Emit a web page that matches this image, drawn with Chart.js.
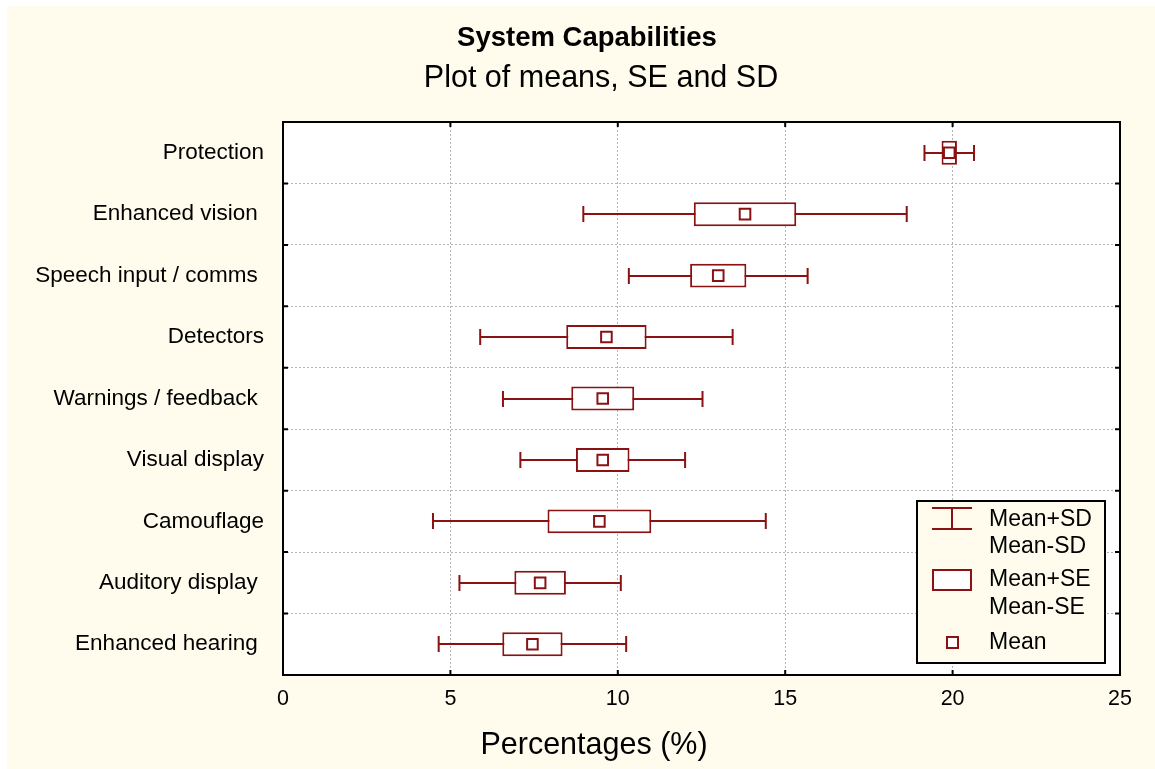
<!DOCTYPE html>
<html>
<head>
<meta charset="utf-8">
<script src="https://cdn.jsdelivr.net/npm/chart.js@4/dist/chart.umd.min.js"></script>
<style>
  html, body { margin: 0; padding: 0; background: #ffffff; }
  canvas { display: block; }
</style>
</head>
<body>
<canvas id="chart" width="1155" height="769"></canvas>
<script>
// Capability categories, top to bottom (trailing spaces kept as in the source labels)
const categories = [
  'Protection',
  'Enhanced vision ',
  'Speech input / comms ',
  'Detectors',
  'Warnings / feedback ',
  'Visual display',
  'Camouflage',
  'Auditory display ',
  'Enhanced hearing '
];
// Mean percentage per category
const means  = [19.9, 13.8, 13.0, 9.66, 9.55, 9.55, 9.45, 7.68, 7.45];
// Standard error of the mean
const stdErr = [0.23, 1.53, 0.84, 1.20, 0.94, 0.80, 1.55, 0.77, 0.90];
// Standard deviation
const stdDev = [0.74, 4.83, 2.67, 3.77, 2.98, 2.46, 4.97, 2.41, 2.80];
// Value axis ticks
const xTicks = [0, 5, 10, 15, 20, 25];

const RED = '#8b1212';
const CREAM = '#fffcee';
const FONT = '"Liberation Sans", Arial, Helvetica, sans-serif';

// Page background, white plot area
const backdrop = {
  id: 'backdrop',
  beforeDraw(chart) {
    const { ctx, chartArea: a, width, height } = chart;
    ctx.save();
    ctx.fillStyle = '#ffffff';
    ctx.fillRect(0, 0, width, height);
    ctx.fillStyle = CREAM;
    ctx.fillRect(7, 6, width - 7, height - 6);
    ctx.fillStyle = '#ffffff';
    ctx.fillRect(a.left, a.top, a.right - a.left, a.bottom - a.top);
    ctx.restore();
  }
};

// Mean ± SD whiskers, drawn beneath the SE boxes
const whiskers = {
  id: 'whiskers',
  beforeDatasetsDraw(chart) {
    const { ctx, scales: { x, y } } = chart;
    ctx.save();
    ctx.strokeStyle = RED;
    ctx.lineWidth = 2;
    means.forEach((m, i) => {
      const yy = Math.round(y.getPixelForValue(i));
      const x1 = x.getPixelForValue(m - stdDev[i]);
      const x2 = x.getPixelForValue(m + stdDev[i]);
      ctx.beginPath();
      ctx.moveTo(x1, yy); ctx.lineTo(x2, yy);
      ctx.moveTo(x1, yy - 8); ctx.lineTo(x1, yy + 8);
      ctx.moveTo(x2, yy - 8); ctx.lineTo(x2, yy + 8);
      ctx.stroke();
    });
    ctx.restore();
  }
};

// Frame, inner tick marks, titles and the legend panel
const decorations = {
  id: 'decorations',
  afterDraw(chart) {
    const { ctx, chartArea: a, scales: { x, y } } = chart;
    ctx.save();

    // inner tick marks
    ctx.strokeStyle = '#000';
    ctx.lineWidth = 2;
    ctx.beginPath();
    xTicks.forEach(v => {
      const px = x.getPixelForValue(v);
      ctx.moveTo(px, a.top); ctx.lineTo(px, a.top + 5);
      ctx.moveTo(px, a.bottom); ctx.lineTo(px, a.bottom - 5);
    });
    const rowH = (a.bottom - a.top) / categories.length;
    for (let i = 0; i <= categories.length; i++) {
      const py = a.top + i * rowH;
      ctx.moveTo(a.left, py); ctx.lineTo(a.left + 5, py);
      ctx.moveTo(a.right, py); ctx.lineTo(a.right - 5, py);
    }
    ctx.stroke();

    // plot frame
    ctx.strokeRect(a.left, a.top, a.right - a.left, a.bottom - a.top);

    // titles
    ctx.fillStyle = '#000';
    ctx.textAlign = 'center';
    ctx.textBaseline = 'alphabetic';
    ctx.font = 'bold 27.5px ' + FONT;
    ctx.fillText('System Capabilities', 587, 46);
    ctx.font = '30.5px ' + FONT;
    ctx.fillText('Plot of means, SE and SD', 601, 87);
    ctx.fillText('Percentages (%)', 594, 754);

    // legend panel
    ctx.fillStyle = CREAM;
    ctx.fillRect(917, 501, 188, 162);
    ctx.strokeStyle = '#000';
    ctx.lineWidth = 2;
    ctx.strokeRect(917, 501, 188, 162);

    ctx.strokeStyle = RED;
    ctx.lineWidth = 2;
    ctx.beginPath();
    ctx.moveTo(932, 508); ctx.lineTo(972, 508);
    ctx.moveTo(932, 529); ctx.lineTo(972, 529);
    ctx.moveTo(952, 508); ctx.lineTo(952, 529);
    ctx.stroke();
    ctx.fillStyle = '#ffffff';
    ctx.fillRect(933, 570, 38, 20);
    ctx.strokeRect(933, 570, 38, 20);
    ctx.fillRect(947, 637, 11, 11);
    ctx.strokeRect(947, 637, 11, 11);

    ctx.fillStyle = '#000';
    ctx.textAlign = 'left';
    ctx.textBaseline = 'middle';
    ctx.font = '23px ' + FONT;
    ctx.fillText('Mean+SD', 989, 520);
    ctx.fillText('Mean-SD', 989, 547);
    ctx.fillText('Mean+SE', 989, 580);
    ctx.fillText('Mean-SE', 989, 608);
    ctx.fillText('Mean', 989, 643);

    ctx.restore();
  }
};

new Chart(document.getElementById('chart'), {
  data: {
    labels: categories,
    datasets: [
      {
        type: 'line',
        label: 'Mean',
        data: means,
        showLine: false,
        pointStyle: 'rect',
        pointRadius: 7.5,
        pointBorderWidth: 2,
        pointBackgroundColor: '#ffffff',
        pointBorderColor: RED,
        order: 1
      },
      {
        type: 'bar',
        label: 'Mean±SE',
        data: means.map((m, i) => [m - stdErr[i], m + stdErr[i]]),
        backgroundColor: '#ffffff',
        borderColor: RED,
        borderWidth: 2,
        borderSkipped: false,
        barPercentage: 0.39,
        categoryPercentage: 1,
        grouped: false,
        order: 2
      }
    ]
  },
  options: {
    indexAxis: 'y',
    responsive: false,
    animation: false,
    events: [],
    layout: { padding: { top: 122, right: 35, bottom: 0, left: 0 } },
    plugins: {
      legend: { display: false },
      title: { display: false },
      tooltip: { enabled: false }
    },
    scales: {
      x: {
        type: 'linear',
        min: 0,
        max: 25,
        afterBuildTicks(scale) { scale.ticks = xTicks.map(v => ({ value: v })); },
        afterFit(scale) { scale.height = 94; scale.paddingLeft = 0; scale.paddingRight = 0; },
        grid: { color: '#b4b4b4', lineWidth: 1, drawTicks: false },
        border: { display: false, dash: [2, 2] },
        ticks: { color: '#000', padding: 11, font: { family: FONT, size: 21.5 } }
      },
      y: {
        type: 'category',
        offset: true,
        afterFit(scale) { scale.width = 283; scale.paddingTop = 0; scale.paddingBottom = 0; },
        grid: { color: '#b4b4b4', lineWidth: 1, drawTicks: false, offset: true },
        border: { display: false, dash: [2, 2] },
        ticks: { color: '#000', padding: 19, font: { family: FONT, size: 22.5 } }
      }
    }
  },
  plugins: [backdrop, whiskers, decorations]
});
</script>
</body>
</html>
